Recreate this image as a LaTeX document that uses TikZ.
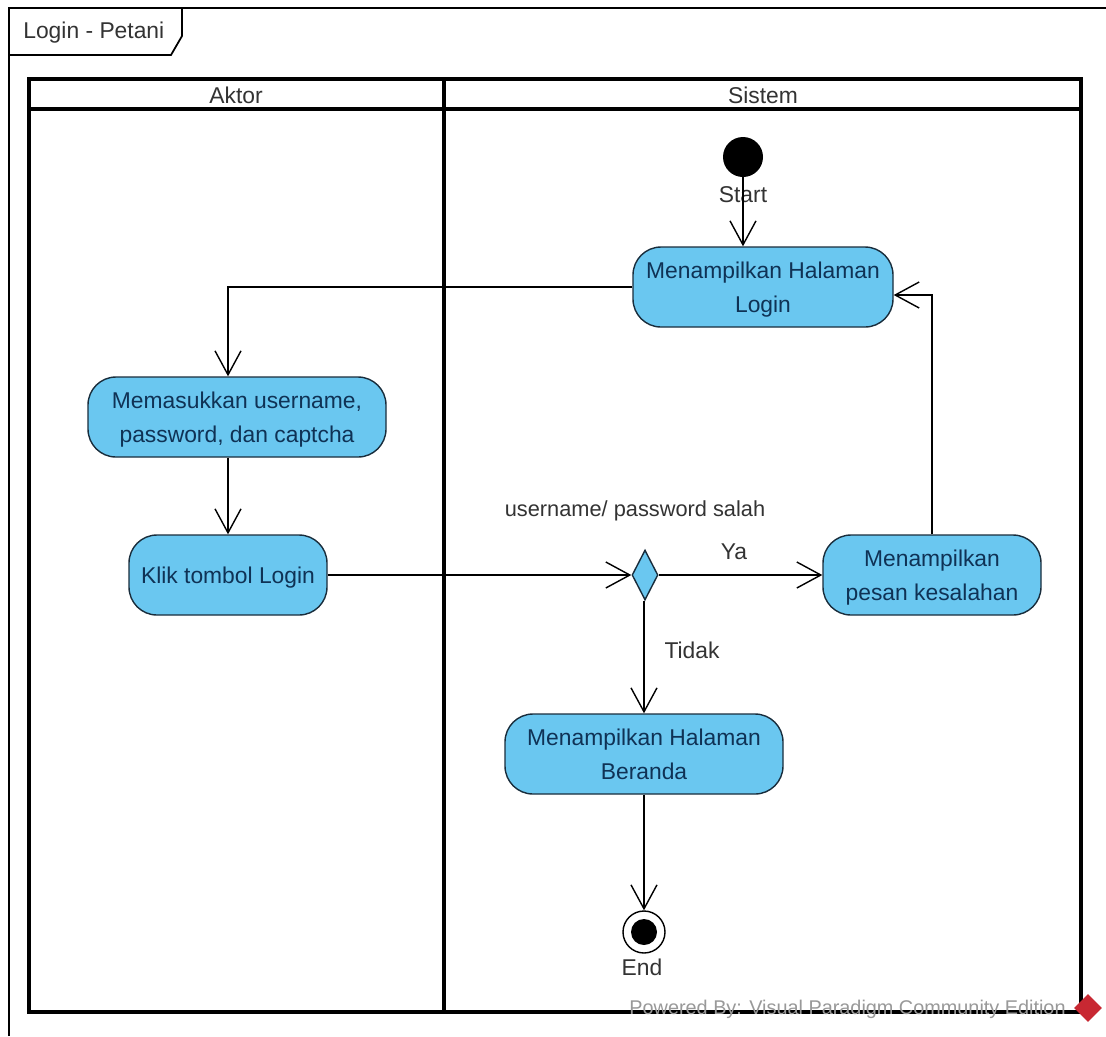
\documentclass[tikz,border=0pt]{standalone}
\usepackage{fontspec}
\setmainfont{Liberation Sans}
\usetikzlibrary{shapes.geometric, arrows.meta}
\definecolor{azione}{RGB}{106,199,240}
\definecolor{bordo}{RGB}{25,45,60}
\definecolor{scritta}{RGB}{15,50,85}
\definecolor{rosso}{RGB}{200,40,50}
\tikzset{
    azione/.style = {draw = bordo, thick, fill = azione, rounded corners = 28*0.02cm, align = center, text = scritta, font = \fontsize{13}{19.4}\selectfont, inner sep = 0pt, text depth = 0pt},
    testo/.style = {font = \fontsize{13}{16}\selectfont, text = black!80, inner sep = 0pt},
    freccia/.style = {line width = 0.8pt, -{Straight Barb[length = 4.8mm, width = 5.2mm]}},
    corsia/.style = {line width = 1.8pt}
}
\begin{document}
\begin{tikzpicture}[x = 0.02cm, y = -0.02cm]
    % Cornice
    \useasboundingbox (0,0) rectangle (1106,1036);
    \fill[white] (0,0) rectangle (1106,1036);
    \draw[line width = 1pt] (9,1036) -- (9,8) -- (1106,8);
    \draw[line width = 1pt] (182,8) -- (182,36) -- (171,55) -- (9,55);
    \node[testo, anchor = west] (titolo) at (23,33) {Login - Petani};
    % Corsie
    \draw[corsia] (29,79) rectangle (1081,1012);
    \draw[corsia] (29,109) -- (1081,109);
    \draw[corsia] (444,79) -- (444,1012);
    \node[testo] (aktor) at (236,95) {Aktor};
    \node[testo] (sistem) at (763,95) {Sistem};
    % Azioni
    \node[azione, minimum width = 260*0.02cm, minimum height = 80*0.02cm] (halaman) at (763,287) {Menampilkan Halaman\\Login};
    \node[azione, minimum width = 298*0.02cm, minimum height = 80*0.02cm] (masuk) at (237,417) {Memasukkan username,\\password, dan captcha};
    \node[azione, minimum width = 198*0.02cm, minimum height = 80*0.02cm] (klik) at (228,575) {Klik tombol Login};
    \node[azione, minimum width = 218*0.02cm, minimum height = 80*0.02cm] (pesan) at (932,575) {Menampilkan\\pesan kesalahan};
    \node[azione, minimum width = 278*0.02cm, minimum height = 80*0.02cm] (beranda) at (644,754) {Menampilkan Halaman\\Beranda};
    % Nodi
    \node[diamond, draw = bordo, thick, fill = azione, minimum width = 26*0.02cm, minimum height = 50*0.02cm, inner sep = 0pt, aspect = 0.55] (scelta) at (645,575) {};
    \node[circle, fill = black, minimum size = 40*0.02cm, inner sep = 0pt] (inizio) at (743,157) {};
    \node[circle, draw = black, line width = 0.8pt, minimum size = 42*0.02cm, inner sep = 0pt] (fine) at (644,932) {};
    \fill[black] (fine.center) circle (13*0.02cm);
    % Etichette
    \node[testo] (start) at (743,195) {Start};
    \node[testo] (end) at (642,967) {End};
    \node[testo, font = \fontsize{12.4}{16}\selectfont] (salah) at (635,511) {username/ password salah};
    \node[testo] (ya) at (734,552) {Ya};
    \node[testo] (tidak) at (692,650) {Tidak};
    % Frecce
    \draw[freccia] (inizio) -- (inizio |- halaman.north);
    \draw[freccia] (halaman.west) -| (klik.north |- masuk.north);
    \draw[freccia] (klik.north |- masuk.south) -- (klik);
    \draw[freccia] (klik) -- (scelta);
    \draw[freccia] (scelta) -- (pesan);
    \draw[freccia] (beranda |- scelta.south) -- (beranda);
    \draw[freccia] (beranda) -- (fine);
    \draw[freccia] (pesan.north) |- ([yshift = -8*0.02cm]halaman.east);
    % Marchio
    \node[anchor = east, font = \fontsize{11.3}{12}\selectfont, text = black!40, inner sep = 0pt] (marchio) at (1066,1009) {Powered By: Visual Paradigm Community Edition};
    \node[diamond, fill = rosso, minimum size = 28*0.02cm, inner sep = 0pt] (logo) at (1088,1008) {};
\end{tikzpicture}
\end{document}
